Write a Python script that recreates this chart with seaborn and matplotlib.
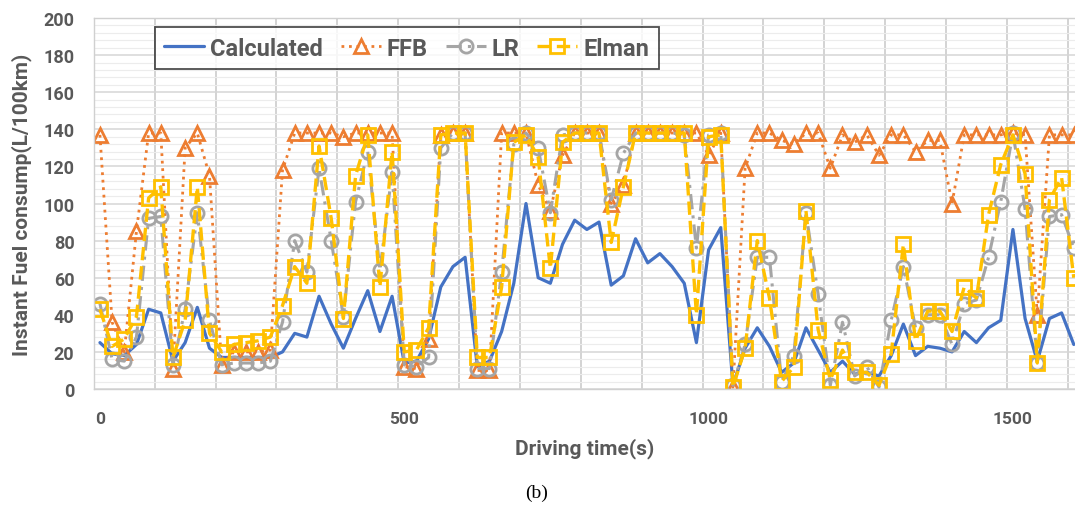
import numpy as np
import pandas as pd
import matplotlib
matplotlib.use("Agg")
import matplotlib.pyplot as plt
import seaborn as sns

# ---------------- data ----------------
time_s = list(range(0, 1601, 20))

calculated = [25, 19, 18, 24, 43, 41, 15, 25, 44, 22,
              17, 17, 17, 17, 17, 20, 30, 28, 50, 35,
              22, 38, 53, 31, 50, 14, 15, 27, 55, 66,
              71, 12, 15, 31, 57, 100, 60, 57, 78, 91,
              86, 90, 56, 61, 81, 68, 73, 66, 57, 25,
              75, 87, 2, 22, 33, 23, 9, 14, 33, 21,
              9, 15, 8, 9, 7, 18, 35, 18, 23, 22,
              20, 31, 25, 33, 37, 86, 38, 15, 38, 41,
              24]

ffb = [137, 36, 20, 85, 138, 138, 11, 130, 138, 115,
       13, 20, 20, 20, 21, 118, 138, 138, 138, 138,
       136, 138, 138, 138, 138, 12, 11, 27, 137, 138,
       138, 10, 10, 138, 138, 138, 110, 96, 126, 138,
       138, 138, 100, 110, 138, 138, 138, 138, 138, 138,
       126, 138, 1, 119, 138, 138, 134, 132, 138, 138,
       119, 137, 133, 137, 126, 137, 137, 128, 134, 134,
       100, 137, 137, 137, 137, 138, 137, 40, 137, 137,
       137]

lr = [46, 16, 15, 28, 92, 93, 13, 43, 95, 37,
      13, 14, 14, 14, 15, 36, 80, 63, 119, 80,
      39, 101, 128, 64, 117, 13, 12, 17, 130, 138,
      138, 11, 11, 63, 132, 138, 130, 95, 137, 138,
      138, 138, 102, 127, 138, 138, 138, 138, 137, 76,
      137, 138, 2, 24, 71, 71, 4, 18, 95, 51,
      2, 36, 7, 12, 1, 37, 66, 33, 40, 40,
      24, 46, 48, 71, 101, 138, 97, 14, 93, 94,
      76]

elman = [43, 23, 27, 39, 103, 109, 17, 37, 109, 30,
         20, 24, 25, 26, 28, 45, 66, 57, 131, 92,
         38, 115, 137, 55, 128, 20, 21, 33, 137, 138,
         138, 17, 17, 55, 133, 137, 125, 65, 133, 138,
         138, 138, 79, 109, 138, 138, 138, 138, 138, 40,
         136, 137, 1, 22, 80, 49, 4, 12, 96, 32,
         5, 21, 9, 9, 2, 19, 78, 26, 42, 42,
         31, 55, 49, 94, 121, 137, 116, 14, 102, 114,
         60]

series_names = ["Calculated", "FFB", "LR", "Elman"]
x_tick_values = [0, 500, 1000, 1500]

# ---------------- style ----------------
sns.set_style("white")
plt.rcParams["font.family"] = ["Roboto", "DejaVu Sans"]

text_color = "#595959"
colors = {"Calculated": "#4472C4", "FFB": "#ED7D31", "LR": "#A5A5A5", "Elman": "#FFC000"}

df = pd.DataFrame({
    "time": time_s * 4,
    "value": calculated + ffb + lr + elman,
    "series": sum([[n] * len(time_s) for n in series_names], []),
})

fig = plt.figure(figsize=(10.75, 5.10), dpi=100)
ax = fig.add_axes([0.0873, 0.2353, 0.9127, 0.7274])

styles = {
    "Calculated": dict(linestyle="-", marker=None, lw=2.3),
    "FFB": dict(linestyle=(0, (1, 1.7)), marker="^", lw=2.0),
    "LR": dict(linestyle=(0, (5, 2, 1, 2)), marker="o", lw=2.2),
    "Elman": dict(linestyle=(0, (4, 1.8)), marker="s", lw=2.4),
}

for name in series_names:
    st = styles[name]
    sub = df[df["series"] == name]
    kw = dict(x="time", y="value", data=sub, ax=ax, color=colors[name],
              linestyle=st["linestyle"], linewidth=st["lw"], label=name,
              errorbar=None, sort=False)
    if st["marker"] is not None:
        kw.update(marker=st["marker"], markersize=9.5, markerfacecolor="none",
                  markeredgecolor=colors[name], markeredgewidth=2.0)
    sns.lineplot(**kw)

ax.set_xlim(-10, 1602)
ax.set_ylim(0, 200)

ax.set_xticks(x_tick_values)
ax.set_xticks(np.arange(-10, 1610, 100), minor=True)
ax.set_yticks(np.arange(0, 201, 20))
ax.set_yticks(np.arange(0, 201, 4), minor=True)

ax.grid(False)
ax.grid(which="minor", axis="x", color="#C8C8C8", lw=1.1)
ax.grid(which="major", axis="y", color="#D6D6D6", lw=1.1)
ax.grid(which="minor", axis="y", color="#ECECEC", lw=0.8)
ax.set_axisbelow(True)

ax.tick_params(which="both", length=0)
ax.tick_params(axis="y", labelsize=13, labelcolor=text_color, pad=14)
ax.tick_params(axis="x", labelsize=12.5, labelcolor=text_color, pad=16)
for lab in ax.get_xticklabels() + ax.get_yticklabels():
    lab.set_fontweight("bold")

for side in ["left", "bottom", "top"]:
    ax.spines[side].set_color("#D0D0D0")
    ax.spines[side].set_linewidth(1.0)
ax.spines["right"].set_visible(False)

ax.set_xlabel("Driving time(s)", fontsize=15, fontweight="bold", color=text_color, labelpad=8)
ax.set_ylabel("Instant Fuel consump(L/100km)", fontsize=15, fontweight="bold",
              color=text_color, labelpad=8)

leg = ax.legend(loc="upper left", bbox_to_anchor=(0.062, 0.975), ncol=4,
                frameon=True, fancybox=False, borderaxespad=0,
                prop={"size": 17, "weight": "bold"}, handlelength=1.7,
                handletextpad=0.25, columnspacing=0.75, borderpad=0.4)
leg.get_frame().set_edgecolor("#222222")
leg.get_frame().set_linewidth(1.3)
for t in leg.get_texts():
    t.set_color(text_color)

fig.text(537 / 1075, 1 - 493 / 510, "(b)", family="Liberation Serif", fontsize=14,
         ha="center", va="center", color="black")

fig.savefig("out.png", dpi=100)
